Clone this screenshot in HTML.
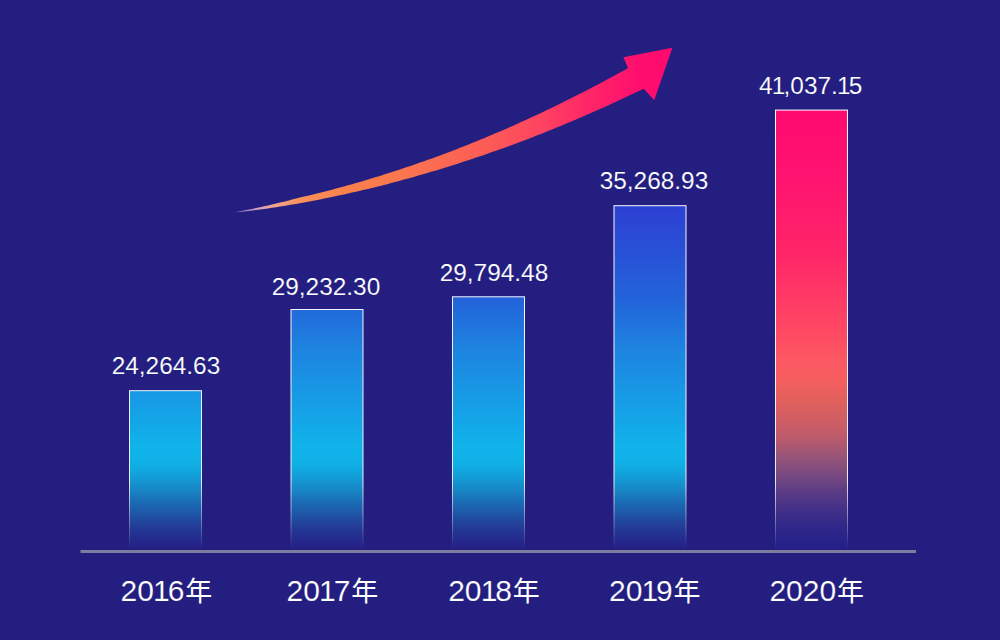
<!DOCTYPE html>
<html><head><meta charset="utf-8"><style>html,body{margin:0;padding:0;background:#231e80;overflow:hidden;width:1000px;height:640px;}svg{display:block}</style></head>
<body>
<svg width="1000" height="640" viewBox="0 0 1000 640">
<defs>
<linearGradient id="gb" gradientUnits="userSpaceOnUse" x1="0" y1="549" x2="0" y2="110">
<stop offset="0.0000" stop-color="#231e80"/>
<stop offset="0.0068" stop-color="#252288"/>
<stop offset="0.0319" stop-color="#243090"/>
<stop offset="0.0569" stop-color="#22409a"/>
<stop offset="0.0820" stop-color="#1e58a8"/>
<stop offset="0.1071" stop-color="#1a6cb4"/>
<stop offset="0.1321" stop-color="#1884c4"/>
<stop offset="0.1572" stop-color="#1498d4"/>
<stop offset="0.1800" stop-color="#10a8e0"/>
<stop offset="0.2027" stop-color="#10b2e8"/>
<stop offset="0.2301" stop-color="#10b4ea"/>
<stop offset="0.2825" stop-color="#13a8e8"/>
<stop offset="0.3394" stop-color="#179ce6"/>
<stop offset="0.4533" stop-color="#1d84e0"/>
<stop offset="0.5672" stop-color="#2364da"/>
<stop offset="0.6811" stop-color="#2850d6"/>
<stop offset="0.7836" stop-color="#2d40d2"/>
<stop offset="1.0000" stop-color="#3230cc"/>
</linearGradient>
<linearGradient id="gr" gradientUnits="userSpaceOnUse" x1="0" y1="549" x2="0" y2="110">
<stop offset="0.0000" stop-color="#252088"/>
<stop offset="0.0137" stop-color="#26228a"/>
<stop offset="0.0524" stop-color="#302888"/>
<stop offset="0.0911" stop-color="#443088"/>
<stop offset="0.1321" stop-color="#5c3c84"/>
<stop offset="0.1708" stop-color="#7a4a80"/>
<stop offset="0.2096" stop-color="#98547a"/>
<stop offset="0.2483" stop-color="#b85a6c"/>
<stop offset="0.2938" stop-color="#d05e64"/>
<stop offset="0.3394" stop-color="#e2605c"/>
<stop offset="0.3850" stop-color="#f45e5e"/>
<stop offset="0.4305" stop-color="#fc5862"/>
<stop offset="0.4989" stop-color="#ff4864"/>
<stop offset="0.6811" stop-color="#ff2468"/>
<stop offset="0.8633" stop-color="#ff1270"/>
<stop offset="1.0000" stop-color="#ff0a70"/>
</linearGradient>
<linearGradient id="gs" gradientUnits="userSpaceOnUse" x1="0" y1="549" x2="0" y2="110">
<stop offset="0" stop-color="#ffffff" stop-opacity="0"/>
<stop offset="0.05" stop-color="#ffffff" stop-opacity="0.3"/>
<stop offset="0.16" stop-color="#ffffff" stop-opacity="0.9"/>
<stop offset="1" stop-color="#ffffff" stop-opacity="1"/>
</linearGradient>
<linearGradient id="ga" gradientUnits="userSpaceOnUse" x1="233" y1="0" x2="672" y2="0">
<stop offset="0.0000" stop-color="#5a50b0"/>
<stop offset="0.0273" stop-color="#a890d0"/>
<stop offset="0.0615" stop-color="#dca0c0"/>
<stop offset="0.0957" stop-color="#f2a48c"/>
<stop offset="0.1526" stop-color="#f8905c"/>
<stop offset="0.2665" stop-color="#f8804c"/>
<stop offset="0.4032" stop-color="#fb7450"/>
<stop offset="0.5854" stop-color="#fc5a56"/>
<stop offset="0.6993" stop-color="#fe4460"/>
<stop offset="0.7904" stop-color="#ff2a66"/>
<stop offset="0.9271" stop-color="#ff0e6e"/>
<stop offset="1.0000" stop-color="#ff0a6e"/>
</linearGradient>
</defs>
<rect width="1000" height="640" fill="#231e80"/>

<rect x="129.5" y="390.7" width="72" height="158.3" fill="url(#gb)" stroke="url(#gs)" stroke-width="1"/>
<rect x="291.0" y="309.5" width="72" height="239.5" fill="url(#gb)" stroke="url(#gs)" stroke-width="1"/>
<rect x="452.5" y="296.8" width="72" height="252.2" fill="url(#gb)" stroke="url(#gs)" stroke-width="1"/>
<rect x="614.0" y="205.7" width="72" height="343.3" fill="url(#gb)" stroke="url(#gs)" stroke-width="1"/>
<rect x="775.5" y="110.1" width="72" height="438.9" fill="url(#gr)" stroke="url(#gs)" stroke-width="1"/>
<rect x="80.5" y="550" width="835.5" height="3" fill="#7c7c9c"/>
<path d="M233.0,212.6 L236.0,211.9 L240.0,211.2 L244.0,210.4 L248.0,209.7 L252.0,208.9 L256.0,208.0 L260.0,207.2 L264.0,206.3 L268.0,205.5 L272.0,204.5 L276.0,203.6 L280.0,202.6 L284.0,201.7 L288.0,200.7 L292.0,199.6 L296.0,198.6 L300.0,197.6 L304.0,196.6 L308.0,195.7 L312.0,194.7 L316.0,193.7 L320.0,192.7 L324.0,191.7 L328.0,190.7 L332.0,189.7 L336.0,188.6 L340.0,187.5 L344.0,186.4 L348.0,185.3 L352.0,184.2 L356.0,183.1 L360.0,181.9 L364.0,180.7 L368.0,179.5 L372.0,178.3 L376.0,177.1 L380.0,175.9 L384.0,174.6 L388.0,173.3 L392.0,172.1 L396.0,170.8 L400.0,169.4 L404.0,168.1 L408.0,166.8 L412.0,165.4 L416.0,164.0 L420.0,162.6 L424.0,161.2 L428.0,159.8 L432.0,158.4 L436.0,156.9 L440.0,155.4 L444.0,153.9 L448.0,152.4 L452.0,150.9 L456.0,149.4 L460.0,147.8 L464.0,146.2 L468.0,144.7 L472.0,143.1 L476.0,141.4 L480.0,139.8 L484.0,138.2 L488.0,136.5 L492.0,134.8 L496.0,133.1 L500.0,131.4 L504.0,129.7 L508.0,127.9 L512.0,126.2 L516.0,124.4 L520.0,122.6 L524.0,120.8 L528.0,119.0 L532.0,117.1 L536.0,115.3 L540.0,113.4 L544.0,111.5 L548.0,109.6 L552.0,107.7 L556.0,105.7 L560.0,103.8 L564.0,101.8 L568.0,99.8 L572.0,97.8 L576.0,95.8 L580.0,93.8 L584.0,91.8 L588.0,89.7 L592.0,87.6 L596.0,85.5 L600.0,83.4 L604.0,81.3 L608.0,79.1 L612.0,77.0 L616.0,74.8 L620.0,72.6 L624.0,70.4 L628.1,68.1 L623.4,57.2 L672.4,47.7 L654.2,100.2 L643.8,88.7 L640.0,90.4 L636.0,92.3 L632.0,94.2 L628.0,96.1 L624.0,98.0 L620.0,99.8 L616.0,101.7 L612.0,103.5 L608.0,105.4 L604.0,107.2 L600.0,109.0 L596.0,110.8 L592.0,112.5 L588.0,114.3 L584.0,116.0 L580.0,117.8 L576.0,119.5 L572.0,121.2 L568.0,122.8 L564.0,124.5 L560.0,126.2 L556.0,127.8 L552.0,129.4 L548.0,131.1 L544.0,132.7 L540.0,134.2 L536.0,135.8 L532.0,137.4 L528.0,138.9 L524.0,140.4 L520.0,141.9 L516.0,143.4 L512.0,144.9 L508.0,146.4 L504.0,147.9 L500.0,149.3 L496.0,150.7 L492.0,152.1 L488.0,153.5 L484.0,154.9 L480.0,156.3 L476.0,157.6 L472.0,159.0 L468.0,160.3 L464.0,161.6 L460.0,162.9 L456.0,164.2 L452.0,165.5 L448.0,166.7 L444.0,168.0 L440.0,169.2 L436.0,170.4 L432.0,171.6 L428.0,172.8 L424.0,174.0 L420.0,175.1 L416.0,176.3 L412.0,177.4 L408.0,178.5 L404.0,179.6 L400.0,180.7 L396.0,181.8 L392.0,182.8 L388.0,183.9 L384.0,184.9 L380.0,185.9 L376.0,186.9 L372.0,187.9 L368.0,188.9 L364.0,189.8 L360.0,190.8 L356.0,191.7 L352.0,192.6 L348.0,193.5 L344.0,194.4 L340.0,195.3 L336.0,196.1 L332.0,197.0 L328.0,197.8 L324.0,198.6 L320.0,199.4 L316.0,200.2 L312.0,201.0 L308.0,201.8 L304.0,202.5 L300.0,203.2 L296.0,203.9 L292.0,204.6 L288.0,205.3 L284.0,206.0 L280.0,206.6 L276.0,207.2 L272.0,207.8 L268.0,208.4 L264.0,208.9 L260.0,209.5 L256.0,210.0 L252.0,210.5 L248.0,211.0 L244.0,211.4 L240.0,211.9 L236.0,212.3 Z" fill="url(#ga)"/>
<text x="111.7" y="373.9" font-family="Liberation Sans, Arial, sans-serif" font-size="24.4" fill="#ffffff" stroke="#231e80" stroke-width="0.15">24,264.63</text>
<text x="271.7" y="295" font-family="Liberation Sans, Arial, sans-serif" font-size="24.4" fill="#ffffff" stroke="#231e80" stroke-width="0.15">29,232.30</text>
<text x="439.7" y="281" font-family="Liberation Sans, Arial, sans-serif" font-size="24.4" fill="#ffffff" stroke="#231e80" stroke-width="0.15">29,794.48</text>
<text x="599.7" y="188.9" font-family="Liberation Sans, Arial, sans-serif" font-size="24.4" fill="#ffffff" stroke="#231e80" stroke-width="0.15">35,268.93</text>
<text x="759.1" y="93.9" font-family="Liberation Sans, Arial, sans-serif" font-size="24.4" fill="#ffffff" stroke="#231e80" stroke-width="0.15">4<tspan dx="-0.81">1</tspan><tspan dx="-1.89">,</tspan>037.<tspan dx="-0.81">1</tspan><tspan dx="-1.89">5</tspan></text>
<text x="120.60000000000001" y="601" font-family="Liberation Sans, Noto Sans CJK SC, sans-serif" font-size="30" fill="#ffffff" stroke="#231e80" stroke-width="0.2">20<tspan dx="-0.9">1</tspan><tspan dx="-2.1">6</tspan><tspan font-family="Liberation Sans, Noto Sans CJK SC, sans-serif" font-size="27" dx="0.8" stroke="none">年</tspan></text>
<text x="286.59999999999997" y="601" font-family="Liberation Sans, Noto Sans CJK SC, sans-serif" font-size="30" fill="#ffffff" stroke="#231e80" stroke-width="0.2">20<tspan dx="-0.9">1</tspan><tspan dx="-2.1">7</tspan><tspan font-family="Liberation Sans, Noto Sans CJK SC, sans-serif" font-size="27" dx="0.8" stroke="none">年</tspan></text>
<text x="448.2" y="601" font-family="Liberation Sans, Noto Sans CJK SC, sans-serif" font-size="30" fill="#ffffff" stroke="#231e80" stroke-width="0.2">20<tspan dx="-0.9">1</tspan><tspan dx="-2.1">8</tspan><tspan font-family="Liberation Sans, Noto Sans CJK SC, sans-serif" font-size="27" dx="0.8" stroke="none">年</tspan></text>
<text x="609.0" y="601" font-family="Liberation Sans, Noto Sans CJK SC, sans-serif" font-size="30" fill="#ffffff" stroke="#231e80" stroke-width="0.2">20<tspan dx="-0.9">1</tspan><tspan dx="-2.1">9</tspan><tspan font-family="Liberation Sans, Noto Sans CJK SC, sans-serif" font-size="27" dx="0.8" stroke="none">年</tspan></text>
<text x="769.4" y="601" font-family="Liberation Sans, Noto Sans CJK SC, sans-serif" font-size="30" fill="#ffffff" stroke="#231e80" stroke-width="0.2">2020<tspan font-family="Liberation Sans, Noto Sans CJK SC, sans-serif" font-size="27" dx="0.8" stroke="none">年</tspan></text>
</svg>
</body></html>
